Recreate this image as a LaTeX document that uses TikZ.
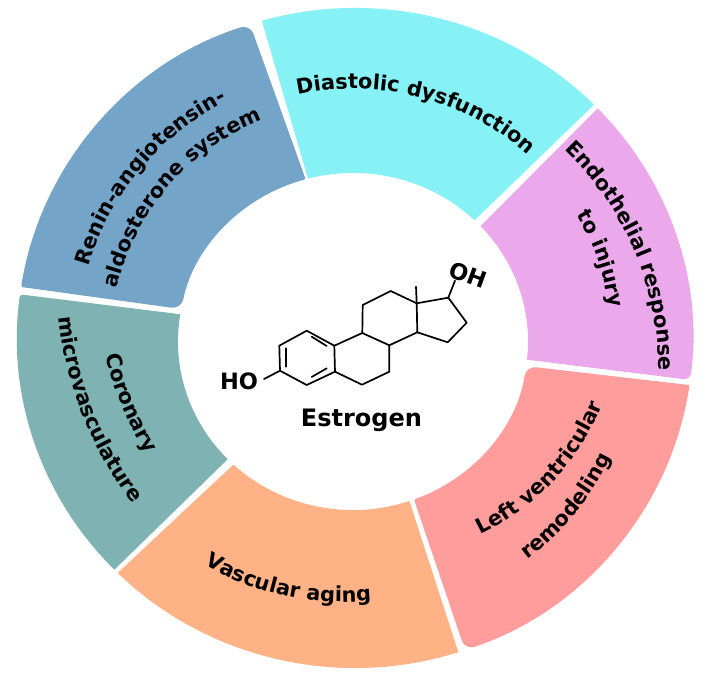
\documentclass[tikz,border=0pt]{standalone}
\usepackage{fontspec}
\setmainfont{DejaVu Sans}
\usetikzlibrary{calc,decorations.text}
\definecolor{cblue}{HTML}{74A4C8}
\definecolor{ccyan}{HTML}{87F2F5}
\definecolor{cpink}{HTML}{EBA9EC}
\definecolor{cred}{HTML}{FF9C9C}
\definecolor{corange}{HTML}{FFB286}
\definecolor{cteal}{HTML}{7FB3B3}
% #1 colour; #2,#3 outer start/end angle (clockwise); #4,#5 inner start/end angle; #6 radius at outer end; #7 at inner start; #8 at inner end; #9 at outer start
\newcommand\seg[9]{%
  \fill[#1,rounded corners=#9] ($(O)+(#2:338pt and 330pt)$)
    [rounded corners=#6] arc[start angle=#2,end angle=#3,x radius=338pt,y radius=330pt]
    [rounded corners=#7] -- ($(I)+(#4:175pt and 168.5pt)$)
    [rounded corners=#8] arc[start angle=#4,end angle=#5,x radius=175pt,y radius=168.5pt]
    [rounded corners=#9] -- cycle;}
% [#1] arc centre, #2 radius (baseline), #3 start angle, #4 end angle, #5 text
\newcommand\arclabel[5][C]{%
  \path[decorate,decoration={text along path,text align={align=center},
     text={|\bfseries\fontsize{20.8}{20.8}\selectfont|#5}}]
    ($(#1)+(#3:1.025*#2 pt and #2 pt)$) arc[start angle=#3,end angle=#4,x radius=1.025*#2 pt,y radius=#2 pt];}
\tikzset{bond/.style={line width=1.7pt,line cap=round,line join=round,black},
  atomlabel/.style={font=\bfseries\fontsize{22.5}{22.5}\selectfont,inner sep=0pt,text=black}}
\begin{document}
\begin{tikzpicture}[x=1pt,y=1pt]
\useasboundingbox (0,0) rectangle (725,-674);
\fill[white] (0,0) rectangle (725,-674);
\coordinate (O) at (355,-338);
\coordinate (I) at (353,-341.5);
\coordinate (C) at (354,-340);
\coordinate (Cteal) at (439.5,-281);
\coordinate (Cpink) at (344,-369);
\coordinate (Cred) at (372,-319.4);
\coordinate (Corange) at (342.4,-340);
% ring segments
\seg{cblue}{171.1}{108.1}{105.7}{168.9}{10pt}{2pt}{10pt}{2pt}
\seg{ccyan}{106}{45}{46}{104.9}{0.5pt}{0.5pt}{0.5pt}{0.5pt}
\seg{cpink}{44.1}{-7.3}{-6.2}{43.2}{7pt}{0.5pt}{0.5pt}{0.5pt}
\seg{cred}{-8.2}{-71}{-69.6}{-8.4}{10pt}{2pt}{10pt}{0.5pt}
\seg{corange}{-72.2}{-134.6}{-133.1}{-71.2}{0.5pt}{0.5pt}{0.5pt}{0.5pt}
\seg{cteal}{224.6}{172.4}{170.7}{224.3}{3pt}{0.5pt}{0.5pt}{0.5pt}
% curved labels
\arclabel{251}{118}{32}{Diastolic dysfunction}
\arclabel{269}{185}{97}{Renin-angiotensin-}
\arclabel{237}{185}{95}{aldosterone system}
\arclabel[Cteal]{334}{182}{222}{Coronary}
\arclabel[Cteal]{373}{171}{231}{microvasculature}
\arclabel[Corange]{262}{211.5}{303.5}{Vascular aging}
\arclabel[Cred]{240}{-87}{3}{Left ventricular}
\arclabel{277}{-83}{6}{remodeling}
\arclabel[Cpink]{307}{65}{-20}{Endothelial response}
\arclabel{251}{59}{-22}{to injury}
% molecule
\coordinate (a1) at (279.3,-345.7);
\coordinate (a2) at (306.7,-330.7);
\coordinate (a3) at (334.3,-345.7);
\coordinate (a4) at (335,-371.7);
\coordinate (a5) at (306.7,-385);
\coordinate (a6) at (280,-370.7);
\coordinate (b) at (362.3,-333);
\coordinate (c) at (362.7,-305);
\coordinate (d) at (390.7,-291);
\coordinate (e) at (416.7,-303.3);
\coordinate (f) at (417.3,-332.3);
\coordinate (g) at (389.3,-345.3);
\coordinate (h) at (389.3,-371.7);
\coordinate (i) at (362,-384.7);
\coordinate (j) at (448.3,-297.7);
\coordinate (k) at (466.7,-322.7);
\coordinate (l) at (447.7,-342.3);
\coordinate (m) at (416,-286.7);
\coordinate (ohb) at (455,-280.7);
\coordinate (hob) at (264,-379);
\coordinate (p1) at (286,-348.3);
\coordinate (p2) at (286,-366.7);
\coordinate (q1) at (311.7,-377);
\coordinate (q2) at (326.7,-368.3);
\coordinate (s1) at (311.7,-336.7);
\coordinate (s2) at (326.7,-346);
\draw[bond] (a1)--(a2)--(a3)--(a4)--(a5)--(a6)--cycle;
\draw[bond] (a3)--(b)--(g)--(h)--(i)--(a4);
\draw[bond] (b)--(c)--(d)--(e)--(f)--(g);
\draw[bond] (e)--(j)--(k)--(l)--(f);
\draw[bond] (e)--(m);
\draw[bond] (j)--(ohb);
\draw[bond] (a6)--(hob);
\draw[bond] (p1)--(p2);
\draw[bond] (q1)--(q2);
\draw[bond] (s1)--(s2);
\node[atomlabel] (ho) at (239,-381) {HO};
\node[atomlabel,rotate=-20] (oh) at (468,-275) {OH};
\node[font=\bfseries\fontsize{24}{24}\selectfont,inner sep=0pt] (estrogen) at (361.5,-420) {Estrogen};
\end{tikzpicture}
\end{document}
